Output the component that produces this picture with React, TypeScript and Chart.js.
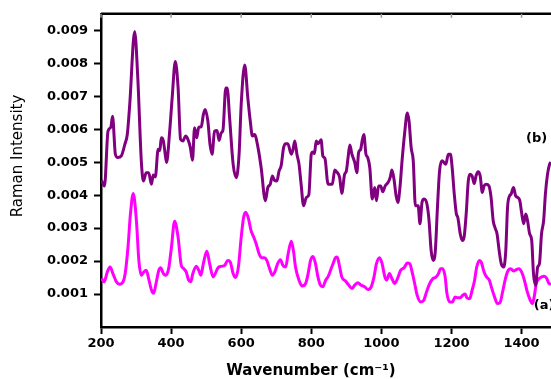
import React, { useEffect, useRef } from "react";
import { Chart, registerables } from "chart.js";

Chart.register(...registerables);

const xTickValues = [200, 400, 600, 800, 1000, 1200, 1400];
const yTickValues = [0.001, 0.002, 0.003, 0.004, 0.005, 0.006, 0.007, 0.008, 0.009];

// Spectrum (b) – purple
const wavenumberB = [
  201, 210, 220, 228, 233, 241, 248, 258, 268, 275,
  282, 296, 305, 315, 321, 329, 336, 344, 349, 355,
  363, 368, 372, 378, 382, 387, 396, 403, 412, 420,
  427, 434, 441, 448, 455, 461, 467, 473, 479, 486,
  492, 497, 505, 511, 517, 524, 531, 537, 543, 548,
  556, 560, 567, 577, 586, 594, 600, 610, 619, 626,
  632, 638, 648, 657, 669, 676, 683, 689, 695, 702,
  708, 714, 721, 727, 733, 743, 748, 753, 759, 765,
  771, 778, 786, 793, 800, 805, 809, 814, 819, 824,
  828, 833, 839, 848, 855, 860, 867, 873, 881, 887,
  895, 900, 905, 910, 916, 924, 930, 935, 941, 945,
  950, 956, 961, 967, 974, 981, 986, 992, 998, 1004,
  1011, 1019, 1025, 1030, 1036, 1042, 1047, 1053, 1059, 1066,
  1074, 1079, 1085, 1091, 1097, 1105, 1110, 1116, 1122, 1130,
  1136, 1142, 1148, 1154, 1160, 1166, 1173, 1184, 1191, 1197,
  1202, 1208, 1214, 1218, 1225, 1231, 1236, 1242, 1248, 1253,
  1259, 1265, 1270, 1276, 1282, 1288, 1293, 1299, 1307, 1313,
  1319, 1324, 1330, 1336, 1342, 1349, 1355, 1360, 1366, 1370,
  1377, 1383, 1389, 1395, 1400, 1406, 1412, 1417, 1423, 1429,
  1434, 1440, 1446, 1451, 1457, 1463, 1468, 1474, 1480, 1484,
];
const intensityB = [
  0.00445, 0.00428, 0.00594, 0.00606, 0.00639, 0.00524, 0.00514, 0.00519, 0.00554, 0.00584,
  0.00675, 0.00896, 0.00755, 0.00504, 0.00443, 0.00468, 0.00468, 0.00433, 0.00461, 0.00455,
  0.00539, 0.00535, 0.00574, 0.00564, 0.00534, 0.00499, 0.00594, 0.00694, 0.00805, 0.00725,
  0.00569, 0.00564, 0.00579, 0.00569, 0.00544, 0.00506, 0.00604, 0.00574, 0.00606, 0.00607,
  0.00644, 0.0066, 0.00624, 0.00554, 0.00524, 0.00594, 0.00596, 0.00566, 0.00589, 0.00597,
  0.00725, 0.00725, 0.00634, 0.00494, 0.00453, 0.00524, 0.00675, 0.00795, 0.00694, 0.00624,
  0.00579, 0.00584, 0.00544, 0.00483, 0.00383, 0.00423, 0.00433, 0.00458, 0.00445, 0.00443,
  0.00473, 0.00489, 0.00544, 0.00556, 0.00556, 0.00524, 0.00539, 0.00564, 0.00524, 0.00494,
  0.00433, 0.00368, 0.00393, 0.00401, 0.00524, 0.00531, 0.00526, 0.00564, 0.00556, 0.00562,
  0.00568, 0.00519, 0.00511, 0.00433, 0.00433, 0.00433, 0.00476, 0.0047, 0.00453, 0.00405,
  0.00463, 0.00473, 0.00514, 0.00552, 0.00524, 0.00499, 0.00468, 0.00529, 0.00539, 0.00564,
  0.00584, 0.00524, 0.00514, 0.00483, 0.00388, 0.00423, 0.00383, 0.00428, 0.00428, 0.0041,
  0.00428, 0.00438, 0.00453, 0.00476, 0.00448, 0.00398, 0.00378, 0.00423, 0.00504, 0.00584,
  0.00649, 0.00624, 0.00544, 0.00504, 0.00368, 0.00368, 0.00313, 0.00378, 0.00388, 0.00373,
  0.00323, 0.00232, 0.00202, 0.00232, 0.00363, 0.00473, 0.00504, 0.00494, 0.00524, 0.00524,
  0.00483, 0.00403, 0.00343, 0.00333, 0.00283, 0.00262, 0.00272, 0.00343, 0.00443, 0.00463,
  0.00458, 0.00435, 0.00458, 0.00471, 0.00458, 0.00408, 0.00428, 0.00433, 0.00428, 0.00393,
  0.00323, 0.00302, 0.00283, 0.00232, 0.00192, 0.00182, 0.00232, 0.00363, 0.00398, 0.00403,
  0.00423, 0.00398, 0.00393, 0.00383, 0.00348, 0.00313, 0.00343, 0.00323, 0.00283, 0.00262,
  0.00162, 0.00127, 0.00182, 0.00192, 0.00283, 0.00323, 0.00403, 0.00463, 0.00494, 0.005,
];

// Spectrum (a) – magenta
const wavenumberA = [
  201, 209, 218, 226, 234, 244, 253, 263, 269, 277,
  284, 292, 301, 308, 315, 322, 329, 336, 344, 350,
  357, 365, 370, 378, 385, 393, 401, 410, 420, 429,
  436, 443, 450, 456, 462, 472, 479, 485, 492, 502,
  510, 520, 534, 543, 553, 562, 569, 577, 584, 592,
  600, 607, 613, 621, 628, 636, 643, 651, 658, 666,
  673, 681, 689, 696, 704, 712, 719, 727, 734, 743,
  749, 755, 765, 774, 784, 791, 798, 805, 812, 819,
  826, 833, 841, 848, 855, 862, 869, 874, 881, 887,
  897, 907, 916, 924, 933, 942, 952, 962, 971, 979,
  986, 995, 1002, 1010, 1015, 1023, 1030, 1038, 1046, 1055,
  1065, 1074, 1081, 1087, 1095, 1102, 1112, 1121, 1129, 1138,
  1147, 1154, 1162, 1169, 1175, 1182, 1187, 1195, 1203, 1210,
  1218, 1225, 1233, 1239, 1244, 1252, 1259, 1266, 1272, 1280,
  1285, 1293, 1300, 1308, 1315, 1323, 1331, 1338, 1346, 1354,
  1362, 1369, 1377, 1385, 1392, 1400, 1408, 1415, 1423, 1431,
  1436, 1442, 1450, 1457, 1465, 1472, 1478, 1484,
];
const intensityA = [
  0.00147, 0.00137, 0.00167, 0.00182, 0.00162, 0.00137, 0.0013, 0.00137, 0.00162, 0.00242,
  0.00343, 0.00405, 0.00323, 0.00202, 0.00157, 0.00167, 0.00172, 0.00147, 0.00112, 0.00102,
  0.00132, 0.00172, 0.0018, 0.00162, 0.00157, 0.00177, 0.00242, 0.00321, 0.00272, 0.00187,
  0.00177, 0.00167, 0.00142, 0.00137, 0.00162, 0.00184, 0.00172, 0.00157, 0.00192, 0.0023,
  0.00192, 0.00152, 0.0018, 0.00184, 0.00187, 0.00202, 0.00197, 0.00162, 0.0015, 0.00182,
  0.00272, 0.00333, 0.00348, 0.00328, 0.00293, 0.00272, 0.00252, 0.00222, 0.0021, 0.0021,
  0.00202, 0.00177, 0.00157, 0.00167, 0.00192, 0.00204, 0.00187, 0.00182, 0.00222, 0.0026,
  0.00232, 0.00182, 0.00142, 0.00124, 0.00132, 0.00162, 0.00202, 0.00214, 0.00192, 0.00152,
  0.00127, 0.00122, 0.00142, 0.00153, 0.00172, 0.00192, 0.0021, 0.00212, 0.00182, 0.00152,
  0.0014, 0.00127, 0.00117, 0.00127, 0.00134, 0.00127, 0.00122, 0.00114, 0.00122, 0.00152,
  0.00192, 0.0021, 0.00192, 0.00152, 0.00142, 0.00162, 0.00147, 0.00132, 0.00147, 0.00172,
  0.0018, 0.00194, 0.00192, 0.0017, 0.00132, 0.00097, 0.00076, 0.00081, 0.00107, 0.00132,
  0.00147, 0.0015, 0.0016, 0.00177, 0.00177, 0.00152, 0.00102, 0.00076, 0.00076, 0.00091,
  0.00089, 0.00089, 0.00097, 0.001, 0.00089, 0.00086, 0.00112, 0.00142, 0.00182, 0.00202,
  0.00197, 0.00167, 0.00152, 0.00142, 0.00117, 0.00091, 0.00071, 0.00073, 0.00107, 0.00147,
  0.00172, 0.00177, 0.0017, 0.00174, 0.00177, 0.00167, 0.00142, 0.00112, 0.00086, 0.00071,
  0.00091, 0.00132, 0.00147, 0.00152, 0.00154, 0.00147, 0.00132, 0.0013,
];

const xTitle = "Wavenumber (cm\u207B\u00B9)";
const yTitle = "Raman Intensity";

const FONT = "'DejaVu Sans', 'Liberation Sans', Arial, sans-serif";

const framePlugin = {
  id: "frameAndLabels",
  afterDraw(chart: any) {
    const { ctx, chartArea, scales } = chart;
    ctx.save();
    // top frame line
    ctx.strokeStyle = "#000";
    ctx.lineWidth = 2.5;
    ctx.beginPath();
    ctx.moveTo(chartArea.left, chartArea.top);
    ctx.lineTo(chartArea.right, chartArea.top);
    ctx.stroke();
    // small top tick marks
    ctx.strokeStyle = "#999";
    ctx.lineWidth = 1.5;
    for (const t of xTickValues) {
      const px = scales.x.getPixelForValue(t);
      ctx.beginPath();
      ctx.moveTo(px, chartArea.top);
      ctx.lineTo(px, chartArea.top + 4);
      ctx.stroke();
    }
    // curve labels
    ctx.fillStyle = "#000";
    ctx.font = `bold 13px ${FONT}`;
    ctx.textBaseline = "middle";
    ctx.textAlign = "left";
    ctx.fillText("(b)", scales.x.getPixelForValue(1413), scales.y.getPixelForValue(0.00572));
    ctx.fillText("(a)", scales.x.getPixelForValue(1435), scales.y.getPixelForValue(0.00066));

    // axis titles (positioned as in the reference, off-centre)
    ctx.textAlign = "center";
    ctx.font = `bold 15px ${FONT}`;
    ctx.fillText(xTitle, 311, 371);
    ctx.save();
    ctx.translate(18, 156);
    ctx.rotate(-Math.PI / 2);
    ctx.font = `15px ${FONT}`;
    ctx.fillText(yTitle, 0, 0);
    ctx.restore();
    ctx.restore();
  },
};

export default function App() {
  const canvasRef = useRef<HTMLCanvasElement | null>(null);

  useEffect(() => {
    if (!canvasRef.current) return;
    const chart = new Chart(canvasRef.current, {
      type: "line",
      data: {
        datasets: [
          {
            label: "(b)",
            data: wavenumberB.map((x, i) => ({ x, y: intensityB[i] })),
            borderColor: "#800080",
            borderWidth: 3,
            pointRadius: 0,
            cubicInterpolationMode: "monotone",
            fill: false,
          },
          {
            label: "(a)",
            data: wavenumberA.map((x, i) => ({ x, y: intensityA[i] })),
            borderColor: "#FF00FF",
            borderWidth: 3,
            pointRadius: 0,
            cubicInterpolationMode: "monotone",
            fill: false,
          },
        ],
      },
      options: {
        animation: false,
        responsive: false,
        layout: { padding: { top: 12, left: 0, right: 0, bottom: 0 } },
        plugins: { legend: { display: false }, tooltip: { enabled: false } },
        scales: {
          x: {
            type: "linear",
            min: 200,
            max: 1484,
            afterBuildTicks: (s: any) => {
              s.ticks = xTickValues.map((v) => ({ value: v }));
            },
            afterFit: (s: any) => {
              s.height = 52;
            },
            grid: {
              drawOnChartArea: false,
              drawTicks: true,
              tickLength: 7,
              tickWidth: 2,
              tickColor: "#000",
              color: "#000",
            },
            border: { display: true, color: "#000", width: 2.5 },
            ticks: {
              color: "#000",
              font: { family: FONT, size: 13, weight: "bold" },
              padding: 2,
              maxRotation: 0,
              autoSkip: false,
              callback: (v: any) => String(v),
            },
            title: { display: false },
          },
          y: {
            type: "linear",
            min: 0,
            max: 0.0095,
            afterBuildTicks: (s: any) => {
              s.ticks = yTickValues.map((v) => ({ value: v }));
            },
            afterFit: (s: any) => {
              s.width = 101;
            },
            grid: {
              drawOnChartArea: false,
              drawTicks: true,
              tickLength: 7,
              tickWidth: 2,
              tickColor: "#000",
              color: "#000",
            },
            border: { display: true, color: "#000", width: 2.5 },
            ticks: {
              color: "#000",
              font: { family: FONT, size: 13, weight: "bold" },
              padding: 6,
              callback: (v: any) => Number(v).toFixed(3),
            },
            title: { display: false },
          },
        },
      },
      plugins: [framePlugin],
    } as any);
    return () => chart.destroy();
  }, []);

  return (
    <div style={{ position: "fixed", left: 0, top: 0, width: 551, height: 379, background: "#fff" }}>
      <canvas ref={canvasRef} width={551} height={379} style={{ display: "block" }} />
    </div>
  );
}
